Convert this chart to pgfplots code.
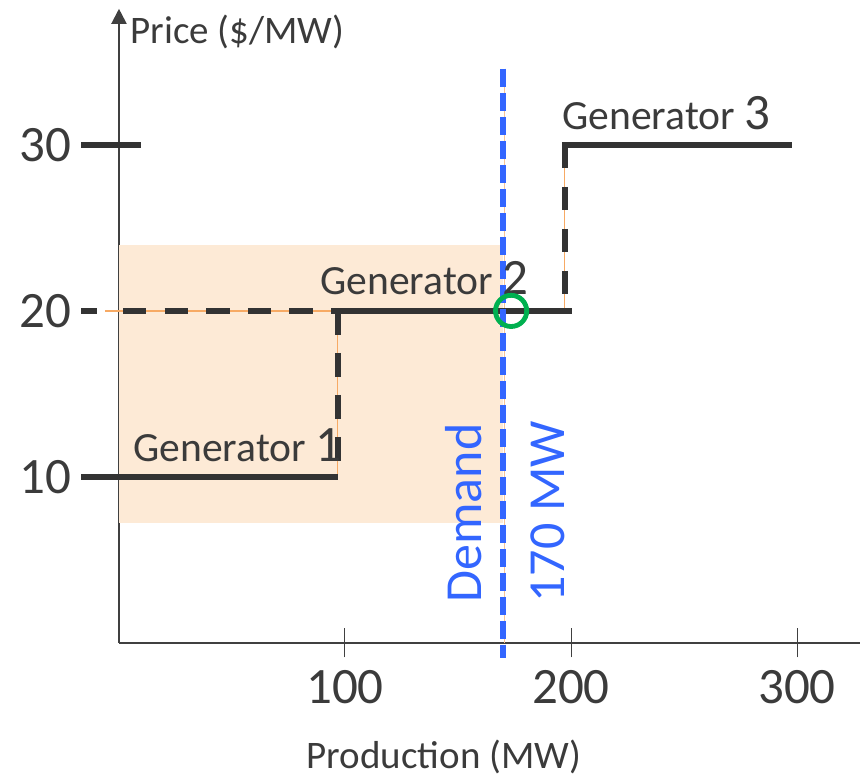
\documentclass[border=0pt]{standalone}
\usepackage{fontspec}
\setmainfont{Carlito}[Numbers=Monospaced]
\usepackage{pgfplots}
\pgfplotsset{compat=1.18}
\usetikzlibrary{arrows.meta}
\definecolor{dk}{RGB}{51,51,51}
\definecolor{txt}{RGB}{59,59,59}
\definecolor{ax}{RGB}{64,64,64}
\definecolor{peach}{RGB}{253,234,214}
\definecolor{org}{RGB}{247,170,100}
\definecolor{blu}{RGB}{51,102,255}
\definecolor{grn}{RGB}{0,176,80}
\begin{document}
\begin{tikzpicture}
\begin{axis}[
  x=1.13pt, y=8.3pt,
  xmin=0, xmax=327.9, ymin=0, ymax=38.2,
  axis lines=left,
  axis line style={ax, line width=1pt},
  x axis line style={-},
  y axis line style={-{Triangle[width=7.5pt,length=7.5pt]}},
  clip=false,
  xtick={100,200,300},
  ytick={10,20,30},
  tick align=center,
  major tick length=14.5pt,
  x tick style={ax, line width=0.5pt},
  y tick style={draw=none},
  /pgf/number format/assume math mode=true,
  ticklabel style={font=\fontsize{25.5}{30}\selectfont, text=txt, inner sep=0pt},
  yticklabel style={xshift=-16.5pt},
  xticklabel style={yshift=-6.5pt},
  xlabel={Production (MW)},
  ylabel={Price (\$/MW)},
  xlabel style={font=\fontsize{19.5}{23}\selectfont, text=txt, inner sep=0pt, at={(rel axis cs:0.4384,-0.1985)}, anchor=base},
  ylabel style={rotate=-90, font=\fontsize{19.5}{23}\selectfont, text=txt, inner sep=0pt, at={(rel axis cs:0.0149,0.9450)}, anchor=base west},
]
% shaded area
\addplot[fill=peach, draw=none] coordinates {(0,7.25) (170,7.25) (170,24) (0,24)} -- cycle;
% thin orange guide lines
\addplot[org, line width=0.6pt] coordinates {(-6,20) (96.8,20)};
\addplot[org, line width=0.6pt] coordinates {(96.8,10) (96.8,20)};
\addplot[org, line width=0.6pt] coordinates {(197.3,20) (197.3,30)};
\addplot[org!70, line width=0.8pt] coordinates {(170.5,0) (170.5,34.6)};
% tick marks on price axis
\addplot[dk, line width=3pt] coordinates {(-16.8,30) (9.7,30)};
\addplot[dk, line width=3pt] coordinates {(-16.8,20) (-9.7,20)};
% supply curve
\addplot[dk, line width=3pt] coordinates {(-16.8,10) (96.8,10)};
\addplot[dk, line width=3pt, dash pattern=on 11.65pt off 9.15pt] coordinates {(1.8,20) (96.8,20)};
\addplot[dk, line width=3pt, dash pattern=on 12pt off 9pt] coordinates {(96.8,20) (96.8,10)};
\addplot[dk, line width=3pt] coordinates {(95.5,20) (200.4,20)};
\addplot[dk, line width=3pt, dash pattern=on 11.5pt off 9.5pt] coordinates {(197.3,30) (197.3,20)};
\addplot[dk, line width=3pt] coordinates {(196,30) (297.6,30)};
% demand line
\addplot[blu, line width=3pt, dash pattern=on 9pt off 3pt] coordinates {(170,34.6) (170,-0.9)};
% equilibrium
\addplot[grn, only marks, mark=o, mark size=7.8pt, mark options={line width=2.4pt}] coordinates {(173.5,20)};
% labels
\node[anchor=base west, inner sep=0pt, text=txt] at (axis cs:6.2,10.9) {\fontsize{20.8}{24}\selectfont Generator \fontsize{25.5}{30}\selectfont 1};
\node[anchor=base west, inner sep=0pt, text=txt] at (axis cs:88.9,20.96) {\fontsize{20.8}{24}\selectfont Generator \fontsize{25.5}{30}\selectfont 2};
\node[anchor=base west, inner sep=0pt, text=txt] at (axis cs:196,30.9) {\fontsize{20.8}{24}\selectfont Generator \fontsize{25.5}{30}\selectfont 3};
\node[rotate=90, anchor=base west, inner sep=0pt, text=blu] at (axis cs:160.2,2.41) {\fontsize{26}{30}\selectfont Demand};
\node[rotate=90, anchor=base west, inner sep=0pt, text=blu] at (axis cs:197.3,2.41) {\fontsize{26}{30}\selectfont 170 MW};
\coordinate (bl) at (axis cs:-52.65,-8.19);
\coordinate (tr) at (axis cs:327.88,38.73);
\end{axis}
\pgfresetboundingbox
\path[use as bounding box] (bl) rectangle (tr);
\end{tikzpicture}
\end{document}
